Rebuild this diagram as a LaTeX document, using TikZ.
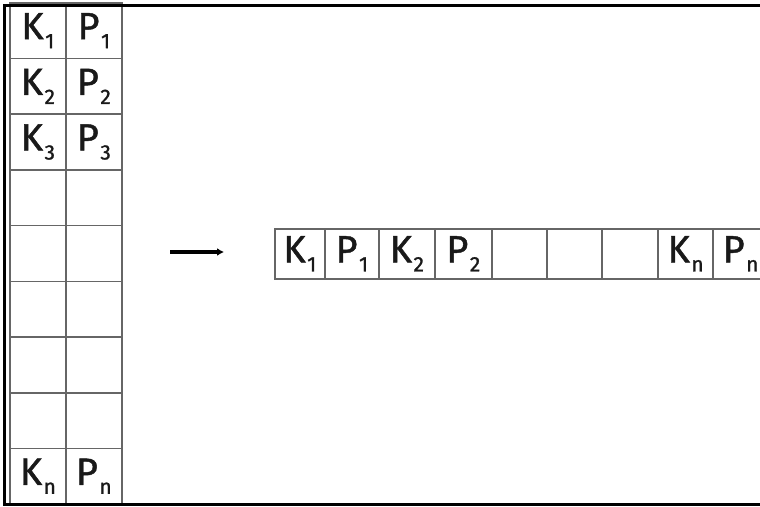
\documentclass[tikz,border=0pt]{standalone}
\usepackage{fontspec}
\setmainfont{Fira Sans}[FakeBold=1.2,AutoFakeBold=1.2]
\usetikzlibrary{arrows.meta}
\newcommand{\kp}[2]{\textbf{#1\kern1.5pt\raisebox{-9pt}{\fontsize{21}{21}\selectfont #2}}}
\tikzset{
  cell/.style={draw=black!60, line width=1.6pt, minimum width=56pt, minimum height=55.7pt, inner sep=0pt, anchor=north west, font=\fontsize{38}{38}\selectfont, text=black!90},
  hcell/.style={draw=black!60, line width=1.6pt, minimum width=55.5pt, minimum height=50pt, inner sep=0pt, anchor=north west, font=\fontsize{38}{38}\selectfont, text=black!90},
  frame/.style={line width=3pt, black},
  conn/.style={line width=3.2pt, -{Latex[length=7pt,width=8pt]}}
}
\begin{document}
\begin{tikzpicture}[x=1pt,y=-1pt]
\useasboundingbox (0,0) rectangle (760,506);
% left table
\foreach \r/\a/\b [count=\i from 0] in {1/\kp{K}{1}/\kp{P}{1},2/\kp{K}{2}/\kp{P}{2},3/\kp{K}{3}/\kp{P}{3},4//,5//,6//,7//,8//,9/\kp{K}{n}/\kp{P}{n}}{
  \node[cell] (lk\r) at (9,{2+55.7*\i}) {\a};
  \node[cell] (lp\r) at (65,{2+55.7*\i}) {\b};
}
% horizontal row
\node[hcell, minimum width=50pt] (h1) at (274,228) {\kp{K}{1}};
\node[hcell, minimum width=54pt] (h2) at (324,228) {\kp{P}{1}};
\node[hcell, minimum width=56pt] (h3) at (378,228) {\kp{K}{2}};
\node[hcell, minimum width=57pt] (h4) at (434,228) {\kp{P}{2}};
\node[hcell] (h5) at (491,228) {};
\node[hcell] (h6) at (546,228) {};
\node[hcell] (h7) at (601,228) {};
\node[hcell] (h8) at (657,228) {\kp{K}{n}};
\node[hcell] (h9) at (712,228) {\kp{P}{n}};
% arrow
\coordinate (a1) at (170,252);
\coordinate (a2) at (224,252);
\draw[conn] (a1) -- (a2);
% frame
\draw[frame] (760,5) -- (4.5,5) -- (4.5,504.5) -- (760,504.5);
\end{tikzpicture}
\end{document}
